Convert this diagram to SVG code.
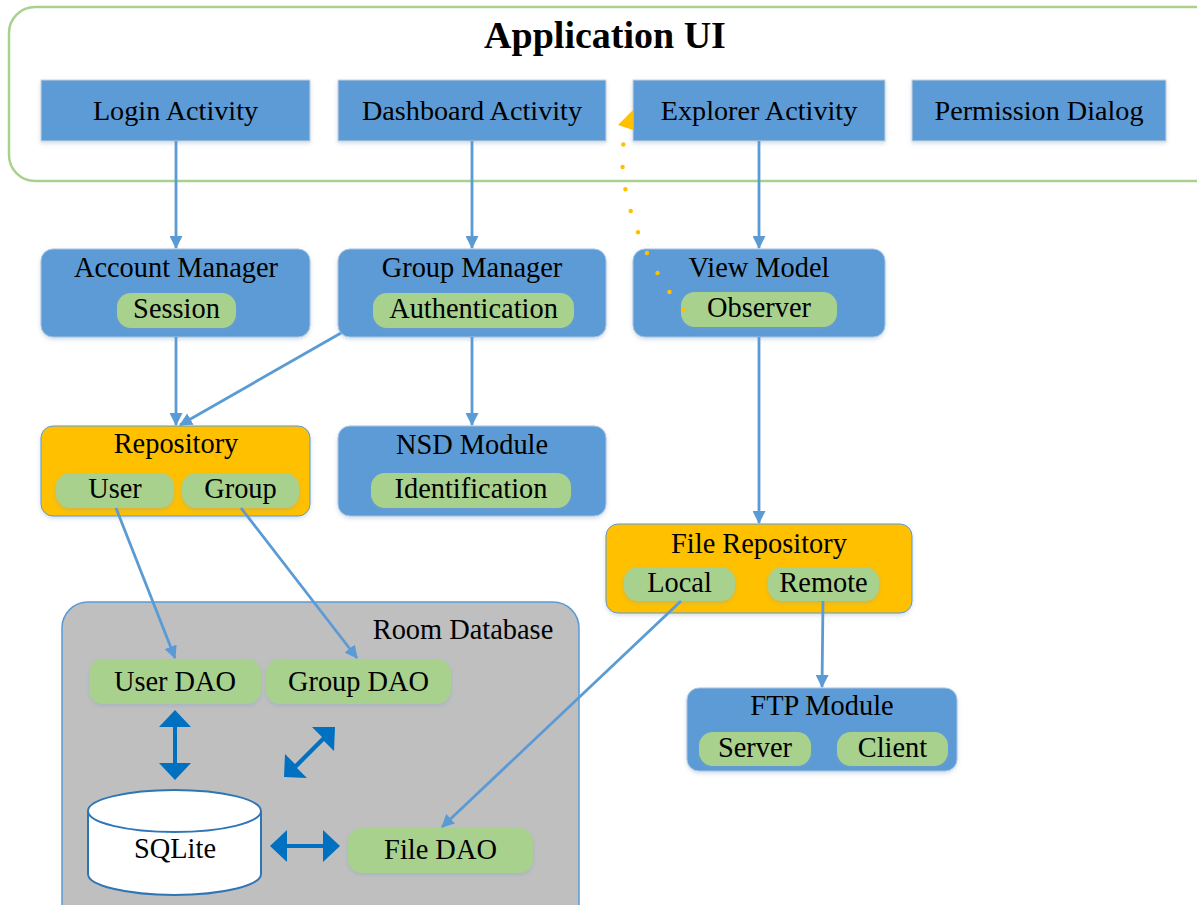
<svg xmlns="http://www.w3.org/2000/svg" width="1197" height="905" viewBox="0 0 1197 905">
  <defs>
    <style>
      text { font-family: "Liberation Serif", "Times New Roman", serif; fill: #000; text-anchor: middle; }
      .title { font-size: 38px; font-weight: bold; }
      .act { font-size: 28.2px; }
      .lbl { font-size: 28.4px; }
      .activity { fill: #5B9BD5; stroke: #C9D3DD; stroke-width: 1; filter: url(#shadow); }
      .module { fill: #5B9BD5; stroke: #A9C4E3; stroke-width: 1; filter: url(#shadow); }
      .repo { fill: #FFC000; stroke: #5B9BD5; stroke-width: 1; filter: url(#shadow); }
      .pill { fill: #A9D18E; filter: url(#shadow); }
      .link { fill: none; stroke: #5B9BD5; stroke-width: 2.8; marker-end: url(#arrow); }
      .dots { fill: none; stroke: #FFC000; stroke-width: 4.5; stroke-linecap: round; stroke-dasharray: 0 22.5; }
      .dbarrow { fill: #0070C0; }
    </style>
    <filter id="shadow" x="-10%" y="-20%" width="120%" height="150%">
      <feDropShadow dx="0" dy="2" stdDeviation="2" flood-color="#7F9DBF" flood-opacity="0.35"/>
    </filter>
    <marker id="arrow" viewBox="0 0 13 13" refX="12" refY="6.5" markerWidth="13" markerHeight="13" markerUnits="userSpaceOnUse" orient="auto">
      <path d="M0,0 L13,6.5 L0,13 Z" fill="#5B9BD5"/>
    </marker>
  </defs>

  <!-- Containers -->
  <g id="application-ui">
    <rect x="9" y="7" width="1212" height="174" rx="26" ry="26" fill="#FFFFFF" stroke="#A9D18E" stroke-width="2.5"/>
    <text class="title" x="605" y="48">Application UI</text>
  </g>
  <g id="room-database">
    <rect x="62" y="602" width="517" height="330" rx="26" ry="26" fill="#BFBFBF" stroke="#5B9BD5" stroke-width="1.5"/>
    <text class="lbl" x="463" y="639">Room Database</text>
  </g>

  <!-- Nodes -->
  <g id="login-activity">
    <rect class="activity" x="41" y="80" width="269" height="61"/>
    <text class="act" x="175.5" y="120">Login Activity</text>
  </g>
  <g id="dashboard-activity">
    <rect class="activity" x="338" y="80" width="268" height="61"/>
    <text class="act" x="472" y="120">Dashboard Activity</text>
  </g>
  <g id="explorer-activity">
    <rect class="activity" x="633" y="80" width="252" height="61"/>
    <text class="act" x="759" y="120">Explorer Activity</text>
  </g>
  <g id="permission-dialog">
    <rect class="activity" x="912" y="80" width="254" height="61"/>
    <text class="act" x="1039" y="120">Permission Dialog</text>
  </g>

  <g id="account-manager">
    <rect class="module" x="41" y="249" width="269" height="88" rx="12" ry="12"/>
    <text class="lbl" x="176" y="277">Account Manager</text>
    <rect class="pill" x="117" y="293" width="119" height="35" rx="14" ry="14"/>
    <text class="lbl" x="176.5" y="318">Session</text>
  </g>
  <g id="group-manager">
    <rect class="module" x="338" y="249" width="268" height="88" rx="12" ry="12"/>
    <text class="lbl" x="472" y="277">Group Manager</text>
    <rect class="pill" x="373" y="293" width="201" height="35" rx="14" ry="14"/>
    <text class="lbl" x="473.5" y="318">Authentication</text>
  </g>
  <g id="view-model">
    <rect class="module" x="633" y="249" width="252" height="88" rx="12" ry="12"/>
    <text class="lbl" x="759" y="277">View Model</text>
    <rect class="pill" x="681" y="292" width="156" height="35" rx="14" ry="14"/>
    <text class="lbl" x="759" y="317">Observer</text>
  </g>

  <g id="repository">
    <rect class="repo" x="41" y="426" width="269" height="90" rx="12" ry="12"/>
    <text class="lbl" x="176" y="453">Repository</text>
    <rect class="pill" x="56" y="473" width="118" height="35" rx="14" ry="14"/>
    <text class="lbl" x="115" y="498">User</text>
    <rect class="pill" x="182" y="473" width="117" height="35" rx="14" ry="14"/>
    <text class="lbl" x="240.5" y="498">Group</text>
  </g>
  <g id="nsd-module">
    <rect class="module" x="338" y="426" width="268" height="90" rx="12" ry="12"/>
    <text class="lbl" x="472" y="454">NSD Module</text>
    <rect class="pill" x="371" y="473" width="200" height="35" rx="14" ry="14"/>
    <text class="lbl" x="471" y="498">Identification</text>
  </g>

  <g id="file-repository">
    <rect class="repo" x="606" y="524" width="306" height="89" rx="12" ry="12"/>
    <text class="lbl" x="759" y="553">File Repository</text>
    <rect class="pill" x="624" y="567" width="111" height="34" rx="14" ry="14"/>
    <text class="lbl" x="679.5" y="592">Local</text>
    <rect class="pill" x="768" y="567" width="111" height="34" rx="14" ry="14"/>
    <text class="lbl" x="823.5" y="592">Remote</text>
  </g>
  <g id="ftp-module">
    <rect class="module" x="687" y="688" width="270" height="83" rx="12" ry="12"/>
    <text class="lbl" x="822" y="715">FTP Module</text>
    <rect class="pill" x="699" y="732" width="112" height="34" rx="14" ry="14"/>
    <text class="lbl" x="755" y="757">Server</text>
    <rect class="pill" x="837" y="732" width="111" height="34" rx="14" ry="14"/>
    <text class="lbl" x="892.5" y="757">Client</text>
  </g>

  <g id="user-dao">
    <rect class="pill" x="89" y="659" width="172" height="45" rx="14" ry="14"/>
    <text class="lbl" x="175" y="691">User DAO</text>
  </g>
  <g id="group-dao">
    <rect class="pill" x="266" y="659" width="185" height="45" rx="14" ry="14"/>
    <text class="lbl" x="358.5" y="691">Group DAO</text>
  </g>
  <g id="file-dao">
    <rect class="pill" x="348" y="828" width="185" height="45" rx="14" ry="14"/>
    <text class="lbl" x="440.5" y="859">File DAO</text>
  </g>
  <g id="sqlite">
    <path d="M88,811 L88,874 A86.5,21 0 0 0 261,874 L261,811" fill="#FFFFFF" stroke="#2E75B6" stroke-width="2"/>
    <ellipse cx="174.5" cy="811" rx="86.5" ry="21" fill="#FFFFFF" stroke="#2E75B6" stroke-width="2"/>
    <text class="lbl" x="175" y="858">SQLite</text>
  </g>

  <!-- Connectors -->
  <g id="connectors">
    <line class="link" x1="176" y1="141" x2="176" y2="248"/>
    <line class="link" x1="472" y1="141" x2="472" y2="248"/>
    <line class="link" x1="759" y1="141" x2="759" y2="248"/>
    <line class="link" x1="176" y1="337" x2="176" y2="425"/>
    <line class="link" x1="341" y1="333" x2="180" y2="425"/>
    <line class="link" x1="472" y1="337" x2="472" y2="425"/>
    <line class="link" x1="759" y1="337" x2="759" y2="523"/>
    <line class="link" x1="116" y1="508" x2="175" y2="658"/>
    <line class="link" x1="241" y1="508" x2="357" y2="658"/>
    <line class="link" x1="681" y1="601" x2="442" y2="827"/>
    <line class="link" x1="823" y1="601" x2="822" y2="687"/>

    <!-- observer notification back to the explorer screen; head tucked against the box edge -->
    <path class="dots" d="M683,310 C640,258 612,178 626,132"/>
    <path d="M618,125 L633,110 L633,130 Z" fill="#FFC000"/>

    <!-- two-way links between the DAOs and SQLite -->
    <path class="dbarrow" d="M175,710 L191,727 L177,727 L177,763 L191,763 L175,780 L159,763 L173,763 L173,727 L159,727 Z"/>
    <path class="dbarrow" d="M270,846 L287,830 L287,844 L323,844 L323,830 L340,846 L323,862 L323,848 L287,848 L287,862 Z"/>
    <path class="dbarrow" d="M335,727 L334,751 L324,741 L297,768 L307,778 L284,777 L285,754 L295,764 L322,737 L312,727 Z"/>
  </g>
</svg>
